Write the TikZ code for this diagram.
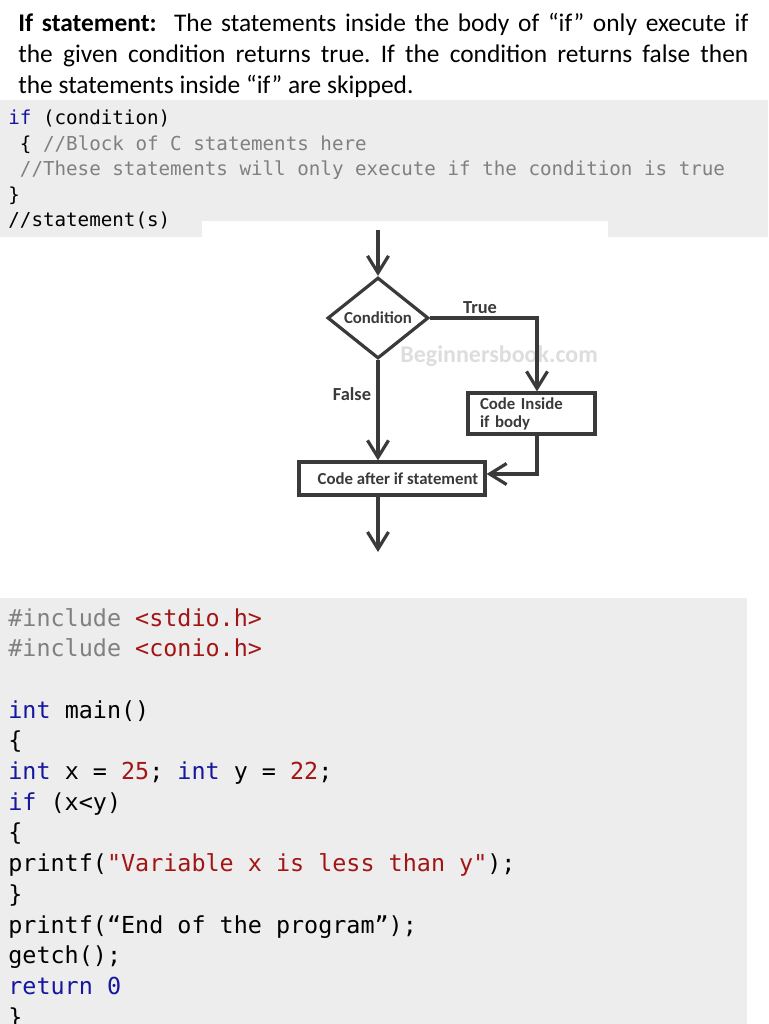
\documentclass[tikz,border=0pt]{standalone}
\usepackage{fontspec}
\usetikzlibrary{shapes.geometric,arrows.meta,positioning,calc}
\setmainfont{Carlito}
\setmonofont{DejaVu Sans Mono}
\frenchspacing
\definecolor{codebg}{HTML}{EDEDED}
\definecolor{kwblue}{HTML}{16169E}
\definecolor{litred}{HTML}{A31515}
\definecolor{cmtgray}{HTML}{808080}
\definecolor{flowline}{HTML}{3A3A3A}
\definecolor{wmark}{HTML}{DDDDDD}
\newcommand{\kwd}[1]{\textcolor{kwblue}{#1}}
\newcommand{\lit}[1]{\textcolor{litred}{#1}}
\newcommand{\cmnt}[1]{\textcolor{cmtgray}{#1}}

\begin{document}
\begin{tikzpicture}[x=0.5pt, y=-0.5pt,
  codeA/.style={anchor=base west, inner sep=0, font=\ttfamily\fontsize{9.6}{11}\selectfont},
  codeB/.style={anchor=base west, inner sep=0, font=\ttfamily\fontsize{11.7}{14}\selectfont},
  block/.style={rectangle, draw=flowline, line width=1.6pt, inner sep=0, text=flowline, font=\bfseries\fontsize{8.4}{9}\selectfont},
  decision/.style={diamond, draw=flowline, line width=1.6pt, inner sep=0, aspect=1.25, minimum width=50.5pt, minimum height=40.5pt, text=flowline, font=\bfseries\fontsize{8.4}{9}\selectfont},
  flow/.style={draw=flowline, line width=1.6pt, -{Straight Barb[length=8.5pt,width=10.5pt]}},
  lbl/.style={inner sep=0, text=flowline, font=\bfseries\fontsize{9.2}{10}\selectfont}
]
  \useasboundingbox (0,0) rectangle (768,1024);
  % backgrounds
  \fill[codebg] (0,100) rectangle (768,237);
  \fill[white] (202,221) rectangle (608,237);
  \fill[codebg] (0,598) rectangle (747,1024);

  % intro text
  \node[anchor=base west, inner sep=0, text width=365pt, align=justify, font=\fontsize{12.7}{15.5}\selectfont] (intro) at (18,31)
    {\textbf{If statement:}\ \ The statements inside the body of “if” only execute if\linebreak
     the given condition returns true. If the condition returns false then\linebreak
     the statements inside “if” are skipped.};

  % syntax
  \node[codeA] (syn1) at (8,124) {\kwd{if} (condition)};
  \node[codeA] (syn2) at (8,150) {\ \{ \cmnt{//Block of C statements here}};
  \node[codeA] (syn3) at (8,175.5) {\ \cmnt{//These statements will only execute if the condition is true}};
  \node[codeA] (syn4) at (8,201) {\}};
  \node[codeA] (syn5) at (8,226.5) {//statement(s)};

  % flowchart
  \node[font=\bfseries\fontsize{12}{14}\selectfont, text=wmark, anchor=base west, inner sep=0] (wm) at (400,362) {Beginnersbook.com};
  \coordinate (entry) at (378,230);
  \coordinate (exit) at (378,552);
  \node[decision] (test) at (378,318) {Condition};
  \node[block, text width=51.5pt, inner xsep=6pt, minimum height=20.5pt, align=left] (inside) at (531.5,413.5) {Code Inside\\if body};
  \node[block, minimum width=93pt, minimum height=16.5pt] (after) at (392,478.5) {\hspace{6pt}Code after if statement};
  \node[lbl] (truelbl) at (480,308) {True};
  \node[lbl] (falselbl) at (352,394) {False};
  \draw[flow] (entry) -- (test.north);
  \draw[flow] (test.east) -| ([xshift=2.75pt]inside.north);
  \draw[flow] (test.south) -- (test.south |- after.north);
  \draw[flow] ([xshift=2.75pt]inside.south) |- ([yshift=2.25pt]after.east);
  \draw[flow] (test.south |- after.south) -- (exit);

  % example program
  \node[codeB] (prog1) at (8,626) {\cmnt{\#include} \lit{<stdio.h>}};
  \node[codeB] (prog2) at (8,656.7) {\cmnt{\#include} \lit{<conio.h>}};
  \node[codeB] (prog3) at (8,718.1) {\kwd{int} main()};
  \node[codeB] (prog4) at (8,748.8) {\{};
  \node[codeB] (prog5) at (8,779.5) {\kwd{int} x = \lit{25}; \kwd{int} y = \lit{22};};
  \node[codeB] (prog6) at (8,810.2) {\kwd{if} (x<y)};
  \node[codeB] (prog7) at (8,840.9) {\{};
  \node[codeB] (prog8) at (8,871.6) {printf(\lit{"Variable x is less than y"});};
  \node[codeB] (prog9) at (8,902.3) {\}};
  \node[codeB] (prog10) at (8,933) {printf(“End of the program”);};
  \node[codeB] (prog11) at (8,963.7) {getch();};
  \node[codeB] (prog12) at (8,994.4) {\kwd{return 0}};
  \node[codeB] (prog13) at (8,1025.1) {\}};
\end{tikzpicture}
\end{document}
